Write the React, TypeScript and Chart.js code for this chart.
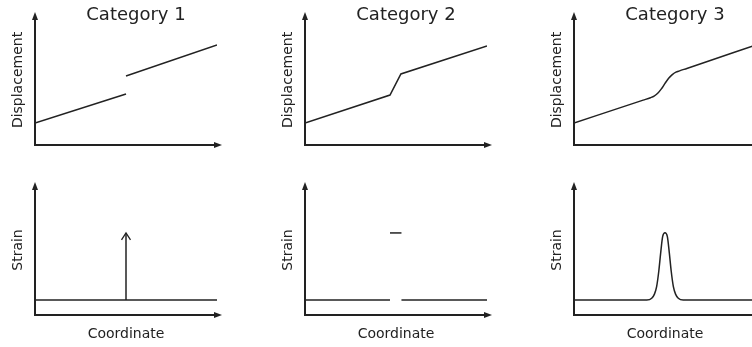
import { useEffect, useRef } from 'react';
import { Chart, registerables } from 'chart.js';

Chart.register(...registerables);

// Column headings and axis captions
const categories = ['Category 1', 'Category 2', 'Category 3'];
const rowLabels = ['Displacement', 'Strain'];
const xLabel = 'Coordinate';

// Displacement profiles: [coordinate, displacement]
const disp1Left: number[][] = [[0, 1.0], [5, 2.32]];
const disp1Right: number[][] = [[5, 3.14], [10, 4.55]];
const disp2: number[][] = [[0, 1.0], [4.67, 2.27], [5.27, 3.23], [10, 4.5]];
const disp3: number[][] = [
  [0, 1.0], [3.8, 2.04], [4.2, 2.15], [4.4, 2.22], [4.6, 2.35], [4.8, 2.55], [5.0, 2.8],
  [5.2, 3.03], [5.4, 3.2], [5.6, 3.31], [5.8, 3.37], [6.2, 3.48], [10, 4.55],
];

// Strain profiles: [coordinate, strain]
const strain1Base: number[][] = [[0, 0.68], [10, 0.68]];
const strain1Spike: number[][] = [[5, 0.68], [5, 3.73]];
const strain2Left: number[][] = [[0, 0.68], [4.67, 0.68]];
const strain2Right: number[][] = [[5.3, 0.68], [10, 0.68]];
const strain2Top: number[][] = [[4.67, 3.73], [5.3, 3.73]];
const strain3: number[][] = [
  [0, 0.68], [4.0, 0.68], [4.27, 0.76], [4.42, 0.95], [4.54, 1.29], [4.66, 2.0],
  [4.76, 2.8], [4.87, 3.56], [5.0, 3.74], [5.13, 3.56], [5.24, 2.8], [5.34, 2.0],
  [5.46, 1.29], [5.58, 0.95], [5.73, 0.76], [6.0, 0.68], [10, 0.68],
];

// Axis ranges shared by every panel
const xRange = [0, 10];
const yRange = [0, 6];

type Series = { points: number[][]; smooth?: boolean; arrow?: boolean };
type Panel = { col: number; row: number; series: Series[] };

const panels: Panel[] = [
  { col: 0, row: 0, series: [{ points: disp1Left }, { points: disp1Right }] },
  { col: 1, row: 0, series: [{ points: disp2 }] },
  { col: 2, row: 0, series: [{ points: disp3, smooth: true }] },
  { col: 0, row: 1, series: [{ points: strain1Base }, { points: strain1Spike, arrow: true }] },
  { col: 1, row: 1, series: [{ points: strain2Left }, { points: strain2Right }, { points: strain2Top }] },
  { col: 2, row: 1, series: [{ points: strain3, smooth: true }] },
];

const colLeft = [0, 270, 539];
const rowTop = [0, 170];
const rowHeight = [170, 177];
const canvasWidth = 260;
const ink = '#222';
const fontFamily = "'DejaVu Sans', Verdana, sans-serif";

// Draws arrowed axes, captions and the arrowhead on flagged series
const sketchAxes = {
  id: 'sketchAxes',
  afterDraw(chart: any, _args: any, opts: any) {
    const { ctx, chartArea } = chart;
    const { left, right, top, bottom } = chartArea;
    ctx.save();
    ctx.strokeStyle = ink;
    ctx.fillStyle = ink;
    ctx.lineWidth = 2;
    ctx.lineCap = 'butt';

    // y axis with arrow
    ctx.beginPath();
    ctx.moveTo(left, bottom + 1);
    ctx.lineTo(left, top + 4);
    ctx.stroke();
    ctx.beginPath();
    ctx.moveTo(left, top - 1);
    ctx.lineTo(left - 3, top + 7);
    ctx.lineTo(left + 3, top + 7);
    ctx.closePath();
    ctx.fill();

    // x axis with arrow
    ctx.beginPath();
    ctx.moveTo(left - 1, bottom);
    ctx.lineTo(right + 1, bottom);
    ctx.stroke();
    ctx.beginPath();
    ctx.moveTo(right + 5, bottom);
    ctx.lineTo(right - 3, bottom - 3);
    ctx.lineTo(right - 3, bottom + 3);
    ctx.closePath();
    ctx.fill();

    // open arrowheads on series flagged with arrow
    chart.data.datasets.forEach((ds: any, i: number) => {
      if (!ds.arrow) return;
      const pts = chart.getDatasetMeta(i).data;
      const tip = pts[pts.length - 1];
      ctx.lineWidth = 1.3;
      ctx.beginPath();
      ctx.moveTo(tip.x - 4.5, tip.y + 7);
      ctx.lineTo(tip.x, tip.y);
      ctx.lineTo(tip.x + 4.5, tip.y + 7);
      ctx.stroke();
    });

    // captions
    if (opts.title) {
      ctx.font = `18px ${fontFamily}`;
      ctx.textAlign = 'center';
      ctx.textBaseline = 'alphabetic';
      ctx.fillText(opts.title, left + 101, 19.5);
    }
    if (opts.xLabel) {
      ctx.font = `14px ${fontFamily}`;
      ctx.textAlign = 'center';
      ctx.textBaseline = 'alphabetic';
      ctx.fillText(opts.xLabel, (left + right) / 2, bottom + 22.5);
    }
    if (opts.yLabel) {
      ctx.font = `14px ${fontFamily}`;
      ctx.translate(left - 17, (top + bottom) / 2 + 1);
      ctx.rotate(-Math.PI / 2);
      ctx.textAlign = 'center';
      ctx.textBaseline = 'middle';
      ctx.fillText(opts.yLabel, 0, 0);
    }
    ctx.restore();
  },
};

function PanelChart({ panel }: { panel: Panel }) {
  const ref = useRef<HTMLCanvasElement>(null);
  const height = rowHeight[panel.row];

  useEffect(() => {
    if (!ref.current) return;
    const chart = new Chart(ref.current, {
      type: 'line',
      data: {
        datasets: panel.series.map((s) => ({
          data: s.points.map(([x, y]) => ({ x, y })),
          borderColor: ink,
          borderWidth: 1.5,
          pointRadius: 0,
          fill: false,
          tension: 0,
          cubicInterpolationMode: s.smooth ? 'monotone' : 'default',
          arrow: !!s.arrow,
        })) as any,
      },
      options: {
        animation: false,
        responsive: false,
        events: [],
        layout: { padding: { left: 35, right: canvasWidth - 217, top: 13, bottom: height - 145 } },
        scales: {
          x: { type: 'linear', min: xRange[0], max: xRange[1], display: false },
          y: { type: 'linear', min: yRange[0], max: yRange[1], display: false },
        },
        plugins: {
          legend: { display: false },
          tooltip: { enabled: false },
          title: { display: false },
          sketchAxes: {
            title: panel.row === 0 ? categories[panel.col] : null,
            xLabel: panel.row === 1 ? xLabel : null,
            yLabel: rowLabels[panel.row],
          },
        } as any,
      },
      plugins: [sketchAxes],
    });
    return () => chart.destroy();
  }, [panel, height]);

  return (
    <canvas
      ref={ref}
      width={canvasWidth}
      height={height}
      style={{ position: 'absolute', left: colLeft[panel.col], top: rowTop[panel.row], width: canvasWidth, height }}
    />
  );
}

export default function App() {
  return (
    <div
      style={{
        position: 'fixed',
        left: 0,
        top: 0,
        width: 752,
        height: 347,
        overflow: 'hidden',
        background: '#fff',
      }}
    >
      {panels.map((p, i) => (
        <PanelChart key={i} panel={p} />
      ))}
    </div>
  );
}
